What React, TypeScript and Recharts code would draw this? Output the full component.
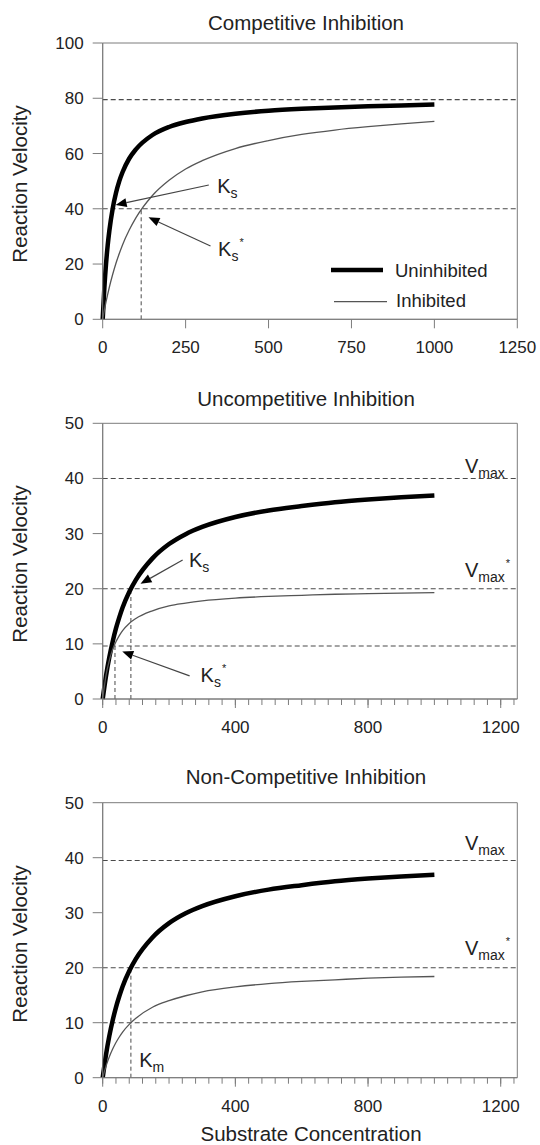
import React from 'react';
import { LineChart, Line, XAxis, YAxis, ReferenceLine, ReferenceDot, ReferenceArea, Legend } from 'recharts';

const FONT = '"Liberation Sans", Arial, Helvetica, sans-serif';
const AXIS = '#7c7c7c';
const DASH = '#4a4a4a';
const INK = '#222';

// Competitive inhibition
const compX = [0, 5, 10, 15, 20, 30, 40, 50, 60, 80, 100, 150, 200, 250, 300, 400, 500, 600, 700, 800, 900, 1000];
const compUninhibited = [0, 11.4, 20, 26.7, 32, 40, 45.7, 50, 53.3, 58.2, 61.5, 66.7, 69.6, 71.4, 72.7, 74.4, 75.5, 76.2, 76.7, 77.1, 77.4, 77.7];
const compInhibited = [0, 3.3, 6.3, 9.0, 11.6, 16.2, 20.3, 23.8, 27.0, 32.3, 36.7, 44.8, 50.3, 54.4, 57.4, 61.8, 64.7, 66.9, 68.5, 69.7, 70.7, 71.6];
const compXTicks = [0, 250, 500, 750, 1000, 1250];
const compYTicks = [0, 20, 40, 60, 80, 100];
const compHLines = [79.5, 40];

// Uncompetitive inhibition
const uncX = [0, 10, 20, 30, 40, 50, 60, 80, 100, 150, 200, 250, 300, 400, 500, 600, 700, 800, 900, 1000];
const uncUninhibited = [0, 4.2, 7.6, 10.4, 12.8, 14.8, 16.6, 19.4, 21.6, 25.5, 28.1, 29.9, 31.2, 33.0, 34.2, 35.0, 35.7, 36.2, 36.6, 36.9];
const uncInhibited = [0, 4.3, 7.0, 9.0, 10.4, 11.5, 12.4, 13.7, 14.6, 16.0, 16.9, 17.4, 17.8, 18.3, 18.6, 18.8, 19.0, 19.1, 19.2, 19.3];
const uncHLines = [40, 20, 9.6];

// Non-competitive inhibition
const ncX = [0, 10, 20, 30, 40, 50, 60, 80, 100, 150, 200, 250, 300, 400, 500, 600, 700, 800, 900, 1000];
const ncUninhibited = [0, 4.2, 7.6, 10.4, 12.8, 14.8, 16.6, 19.4, 21.6, 25.5, 28.1, 29.9, 31.2, 33.0, 34.2, 35.0, 35.7, 36.2, 36.6, 36.9];
const ncInhibited = [0, 2.1, 3.8, 5.2, 6.4, 7.4, 8.3, 9.7, 10.8, 12.8, 14.0, 14.9, 15.6, 16.5, 17.1, 17.5, 17.8, 18.1, 18.3, 18.4];
const ncHLines = [39.5, 20, 10];

const majorTicks = [0, 400, 800, 1200];
const minorTicks = [0, 40, 80, 120, 160, 200, 240, 280, 320, 360, 400, 440, 480, 520, 560, 600, 640, 680, 720, 760, 800, 840, 880, 920, 960, 1000, 1040, 1080, 1120, 1160, 1200, 1240];
const smallYTicks = [0, 10, 20, 30, 40, 50];

const toRows = (xs: number[], u: number[], i: number[]) => xs.map((x, k) => ({ x, u: u[k], i: i[k] }));
const compData = toRows(compX, compUninhibited, compInhibited);
const uncData = toRows(uncX, uncUninhibited, uncInhibited);
const ncData = toRows(ncX, ncUninhibited, ncInhibited);

const Arrow = (props: any) => {
  const { x1, y1, x2, y2 } = props;
  const dx = x2 - x1;
  const dy = y2 - y1;
  const len = Math.hypot(dx, dy) || 1;
  const ux = dx / len;
  const uy = dy / len;
  const hl = 11;
  const hw = 4.5;
  const bx = x2 - ux * hl;
  const by = y2 - uy * hl;
  const pts = `${x2},${y2} ${bx - uy * hw},${by + ux * hw} ${bx + uy * hw},${by - ux * hw}`;
  return (
    <g>
      <line x1={x1} y1={y1} x2={bx} y2={by} stroke="#444" strokeWidth={1.2} />
      <polygon points={pts} fill="#000" />
    </g>
  );
};

const symbol = (main: string, sub: string, star: boolean) => (p: any) => (
  <text x={p.cx} y={p.cy} fontFamily={FONT} fontSize={20} fill={INK}>
    {main}
    <tspan fontSize={14} dy={5}>{sub}</tspan>
    {star && <tspan fontSize={11} dy={-15} dx={1}>*</tspan>}
  </text>
);

const MinorMajorTick = (p: any) => {
  const { x, y, payload } = p;
  const axisY = y - 6 - 16;
  const isMajor = majorTicks.includes(payload.value);
  return (
    <g>
      {isMajor && <line x1={x} x2={x} y1={axisY} y2={axisY + 9} stroke={AXIS} />}
      {isMajor && (
        <text x={x} y={y} dy="0.71em" textAnchor="middle" fontFamily={FONT} fontSize={17} fill={INK}>
          {payload.value}
        </text>
      )}
    </g>
  );
};

const yTickStyle = { fill: INK, fontSize: 17, fontFamily: FONT };

const LegendBox = () => (
  <svg width={180} height={52} style={{ display: 'block', overflow: 'visible' }}>
    <line x1={0} x2={52} y1={12} y2={12} stroke="#000" strokeWidth={4.5} />
    <text x={64} y={18.5} fontFamily={FONT} fontSize={18.5} fill={INK}>Uninhibited</text>
    <line x1={3} x2={56} y1={43.7} y2={43.7} stroke="#555" strokeWidth={1.3} />
    <text x={65} y={49} fontFamily={FONT} fontSize={18.5} fill={INK}>Inhibited</text>
  </svg>
);

const curves = [
  <Line key="u" dataKey="u" type="monotone" stroke="#000" strokeWidth={4.5} dot={false} isAnimationActive={false} />,
  <Line key="i" dataKey="i" type="monotone" stroke="#555" strokeWidth={1.3} dot={false} isAnimationActive={false} />,
];

const App: React.FC = () => {
  return (
    <div style={{ position: 'absolute', left: 0, top: 0, width: 540, height: 1145, background: '#fff' }}>
      <div style={{ position: 'absolute', left: 0, top: 0 }}>
        <LineChart width={540} height={380} data={compData} margin={{ top: 43, right: 22.7, left: 42.7, bottom: 30.7 }}>
          <ReferenceArea x1={0} x2={1250} y1={0} y2={100} fill="none" stroke={AXIS} />
          <XAxis dataKey="x" type="number" domain={[0, 1250]} ticks={compXTicks} interval={0} tickSize={9} tickMargin={13}
            stroke={AXIS} tick={{ fill: INK, fontSize: 17, fontFamily: FONT }} height={30} />
          <YAxis type="number" domain={[0, 100]} ticks={compYTicks} interval={0} tickSize={10} tickMargin={9}
            stroke={AXIS} tick={yTickStyle} width={60} />
          {compHLines.map(v => <ReferenceLine key={v} y={v} stroke={DASH} strokeWidth={1.1} strokeDasharray="5 3" />)}
          <ReferenceLine segment={[{ x: 116, y: 0 }, { x: 116, y: 40 }]} stroke={DASH} strokeDasharray="4 3" />
          {curves}
          <ReferenceLine segment={[{ x: 320, y: 48.6 }, { x: 39, y: 41.4 }]} shape={Arrow} />
          <ReferenceLine segment={[{ x: 325, y: 26.5 }, { x: 138, y: 36.9 }]} shape={Arrow} />
          <ReferenceDot x={345} y={45.6} shape={symbol('K', 's', false)} />
          <ReferenceDot x={348} y={22.8} shape={symbol('K', 's', true)} />
          <Legend layout="vertical" align="center" verticalAlign="middle" content={() => <LegendBox />}
            wrapperStyle={{ left: 331, top: 258, width: 180 }} />
        </LineChart>
      </div>

      <div style={{ position: 'absolute', left: 0, top: 380 }}>
        <LineChart width={540} height={380} data={uncData} margin={{ top: 43.3, right: 22.7, left: 42.7, bottom: 31 }}>
          <ReferenceArea x1={0} x2={1250} y1={0} y2={50} fill="none" stroke={AXIS} />
          <XAxis dataKey="x" type="number" domain={[0, 1250]} ticks={minorTicks} interval={0} tickSize={6} tickMargin={16}
            stroke={AXIS} tick={MinorMajorTick} height={30} />
          <YAxis type="number" domain={[0, 50]} ticks={smallYTicks} interval={0} tickSize={10} tickMargin={9}
            stroke={AXIS} tick={yTickStyle} width={60} />
          {uncHLines.map(v => <ReferenceLine key={v} y={v} stroke={DASH} strokeWidth={1.1} strokeDasharray="5 3" />)}
          <ReferenceLine segment={[{ x: 37, y: 0 }, { x: 37, y: 9.6 }]} stroke={DASH} strokeDasharray="4 3" />
          <ReferenceLine segment={[{ x: 85, y: 0 }, { x: 85, y: 20 }]} stroke={DASH} strokeDasharray="4 3" />
          {curves}
          <ReferenceLine segment={[{ x: 241, y: 25.2 }, { x: 114, y: 20.9 }]} shape={Arrow} />
          <ReferenceLine segment={[{ x: 262, y: 4.2 }, { x: 59, y: 8.6 }]} shape={Arrow} />
          <ReferenceDot x={260} y={24} shape={symbol('K', 's', false)} />
          <ReferenceDot x={295} y={3.1} shape={symbol('K', 's', true)} />
          <ReferenceDot x={1092} y={41} shape={symbol('V', 'max', false)} />
          <ReferenceDot x={1092} y={22.2} shape={symbol('V', 'max', true)} />
        </LineChart>
      </div>

      <div style={{ position: 'absolute', left: 0, top: 760 }}>
        <LineChart width={540} height={385} data={ncData} margin={{ top: 42.7, right: 22.7, left: 42.7, bottom: 37.3 }}>
          <ReferenceArea x1={0} x2={1250} y1={0} y2={50} fill="none" stroke={AXIS} />
          <XAxis dataKey="x" type="number" domain={[0, 1250]} ticks={minorTicks} interval={0} tickSize={6} tickMargin={16}
            stroke={AXIS} tick={MinorMajorTick} height={30} />
          <YAxis type="number" domain={[0, 50]} ticks={smallYTicks} interval={0} tickSize={10} tickMargin={9}
            stroke={AXIS} tick={yTickStyle} width={60} />
          {ncHLines.map(v => <ReferenceLine key={v} y={v} stroke={DASH} strokeWidth={1.1} strokeDasharray="5 3" />)}
          <ReferenceLine segment={[{ x: 85, y: 0 }, { x: 85, y: 20 }]} stroke={DASH} strokeDasharray="4 3" />
          {curves}
          <ReferenceDot x={1092} y={41.4} shape={symbol('V', 'max', false)} />
          <ReferenceDot x={1092} y={22.3} shape={symbol('V', 'max', true)} />
          <ReferenceDot x={110} y={2} shape={symbol('K', 'm', false)} />
        </LineChart>
      </div>

      <svg width={540} height={1145} style={{ position: 'absolute', left: 0, top: 0, pointerEvents: 'none' }}
        fontFamily={FONT} fill={INK}>
        <text x={306} y={29.5} fontSize={20.5} textAnchor="middle">Competitive Inhibition</text>
        <text x={306} y={406} fontSize={20.5} textAnchor="middle">Uncompetitive Inhibition</text>
        <text x={306} y={784} fontSize={20.5} textAnchor="middle">Non-Competitive Inhibition</text>
        <text transform="translate(27,184) rotate(-90)" fontSize={20.5} textAnchor="middle">Reaction Velocity</text>
        <text transform="translate(27,564) rotate(-90)" fontSize={20.5} textAnchor="middle">Reaction Velocity</text>
        <text transform="translate(27,944) rotate(-90)" fontSize={20.5} textAnchor="middle">Reaction Velocity</text>
        <text x={311} y={1141} fontSize={20.5} textAnchor="middle">Substrate Concentration</text>
      </svg>
    </div>
  );
};

export default App;
